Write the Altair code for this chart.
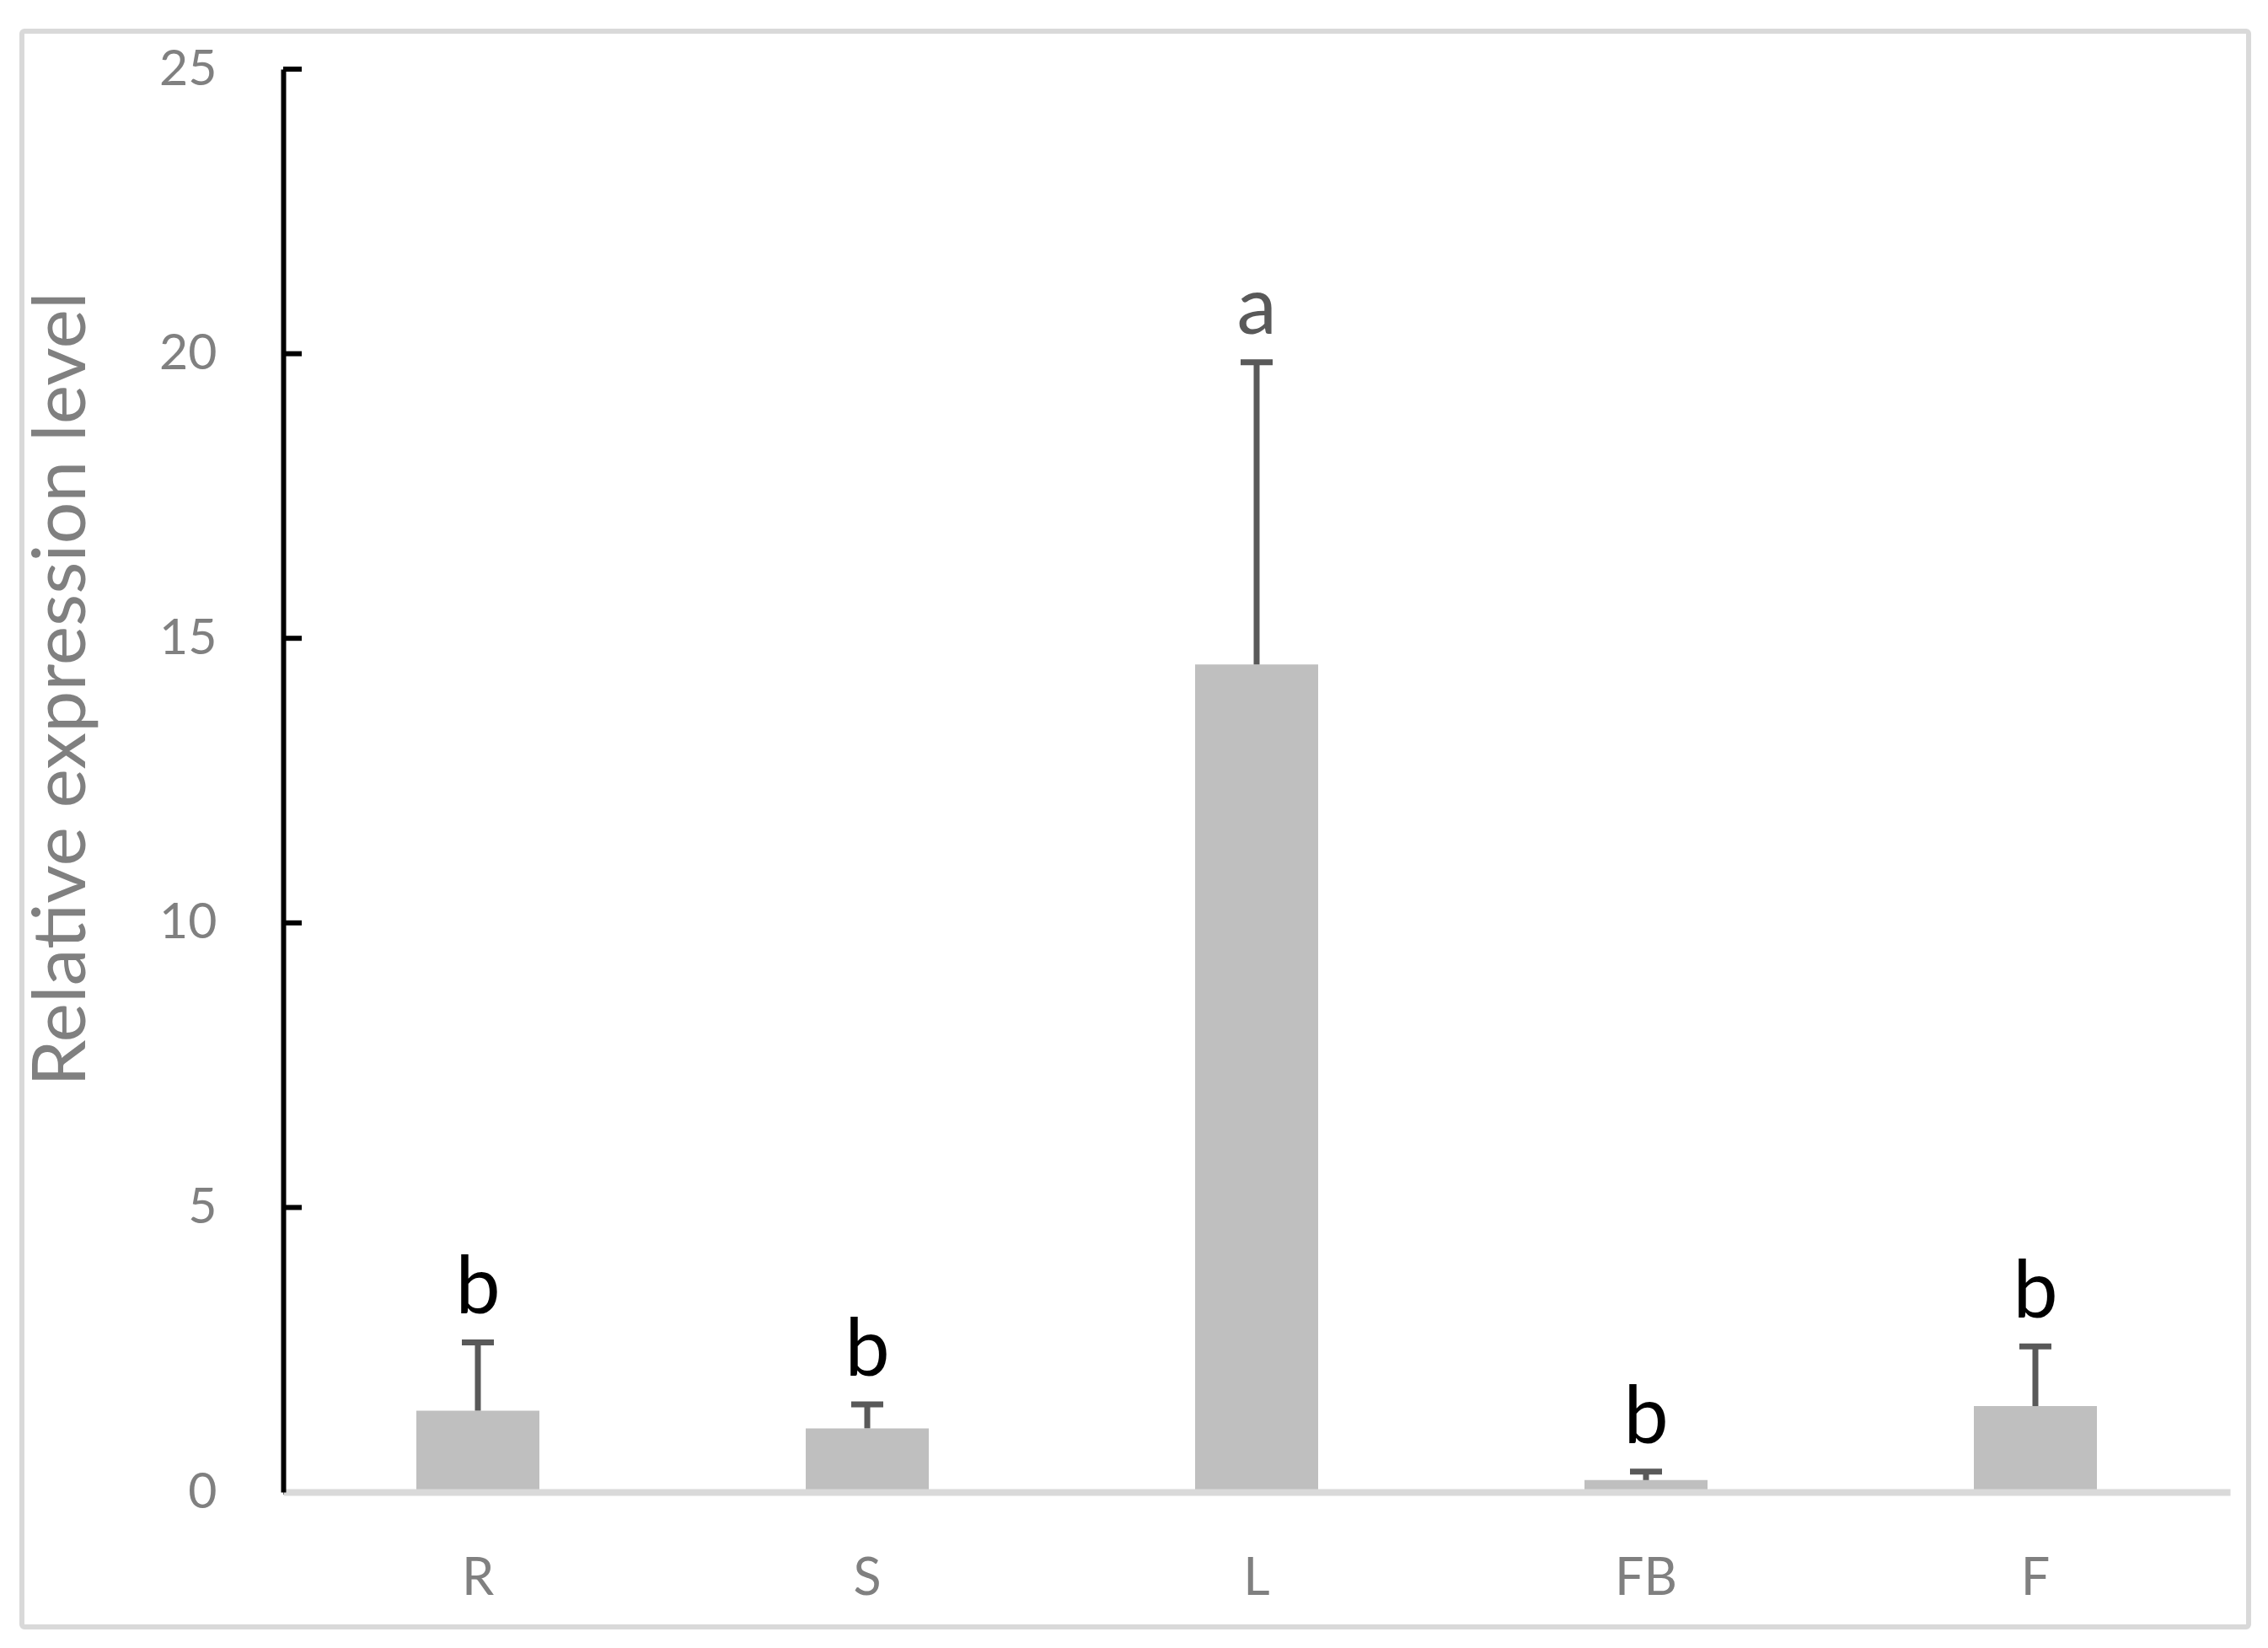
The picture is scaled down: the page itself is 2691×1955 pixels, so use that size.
import altair as alt
import pandas as pd

# ---- data ----
tissues = ["R", "S", "L", "FB", "F"]
means = [1.43, 1.12, 14.54, 0.21, 1.51]
sds = [1.20, 0.42, 5.31, 0.15, 1.05]
letters = ["b", "b", "a", "b", "b"]
y_ticks = [0, 5, 10, 15, 20, 25]
y_title = "Relative expression level"

df = pd.DataFrame({
    "tissue": tissues,
    "mean": means,
    "sd": sds,
    "letter": letters,
})
df["upper"] = df["mean"] + df["sd"]
ticks_df = pd.DataFrame({"v": y_ticks})
frame_df = pd.DataFrame({"k": [0]})

FONT = "Lato"
GRAY_TXT = "#808080"

x_scale = alt.Scale(domain=tissues, paddingInner=0.684, paddingOuter=0.342)
y_scale = alt.Scale(domain=[0, 25], nice=False, zero=True)

x_axis = alt.Axis(
    title=None, labelAngle=0, ticks=False, labelPadding=73,
    labelFont=FONT, labelFontSize=61, labelColor=GRAY_TXT,
    domainColor="#d9d9d9", domainWidth=8, grid=False, zindex=1,
)
y_axis = alt.Axis(
    values=y_ticks, ticks=False, grid=False, labelPadding=79,
    labelFont=FONT, labelFontSize=59, labelColor=GRAY_TXT,
    domainColor="#000000", domainWidth=6, zindex=1,
    title=y_title, titleFont=FONT, titleFontSize=88, titleColor=GRAY_TXT,
    titleFontWeight="normal", titleX=-262, titleY=735,
    titleAlign="center", titleBaseline="middle",
)


def xe():
    return alt.X("tissue:N", sort=tissues, scale=x_scale, axis=x_axis)


def ye(field):
    return alt.Y(field, scale=y_scale, axis=y_axis, title=y_title)


base = alt.Chart(df)

bars = base.mark_bar(color="#bfbfbf").encode(x=xe(), y=ye("mean:Q"))

err = base.mark_rule(color="#595959", strokeWidth=7, opacity=1).encode(
    x=xe(),
    y=ye("mean:Q"),
    y2="upper:Q",
)

caps = base.mark_tick(color="#595959", thickness=7, size=38, opacity=1).encode(
    x=xe(),
    y=ye("upper:Q"),
)

labels = base.mark_text(font=FONT, fontSize=95, baseline="alphabetic", dy=-34).encode(
    x=xe(),
    y=ye("upper:Q"),
    text="letter:N",
    color=alt.Color("letter:N", scale=alt.Scale(domain=["a", "b"], range=["#595959", "#000000"]), legend=None),
)

yticks = alt.Chart(ticks_df).mark_rule(color="#000000", strokeWidth=6).encode(
    y=ye("v:Q"),
    x=alt.value(0),
    x2=alt.value(22),
)

frame = alt.Chart(frame_df).mark_rect(
    fillOpacity=0, stroke="#d9d9d9", strokeWidth=6, cornerRadius=3
).encode(
    x=alt.value(-310), x2=alt.value(2332), y=alt.value(-45), y2=alt.value(1848)
)

chart = alt.layer(bars, err, caps, labels, yticks, frame).properties(
    width=2310, height=1688,
    autosize=alt.AutoSizeParams(type="none"),
    padding={"left": 328, "top": 74, "right": 37, "bottom": 177},
    background="white",
).configure_view(strokeWidth=0)

chart.save("out.html", embed_options={"renderer": "svg", "actions": False})
